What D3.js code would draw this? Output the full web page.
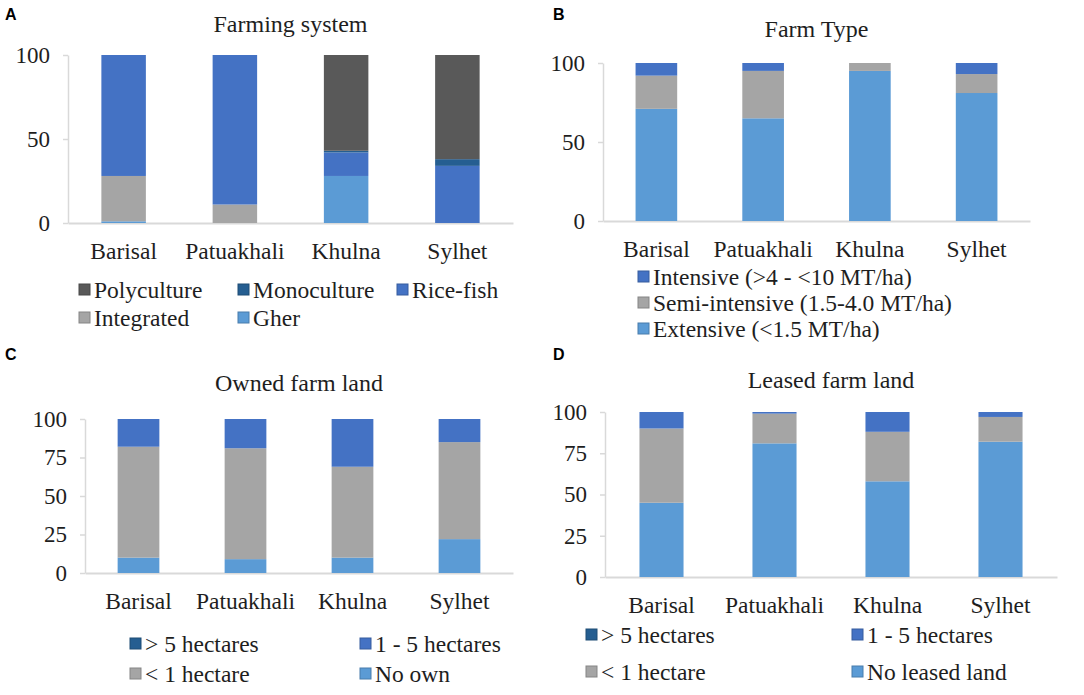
<!DOCTYPE html>
<html>
<head>
<meta charset="utf-8">
<script src="https://cdn.jsdelivr.net/npm/d3@7"></script>
<style>
  body { margin: 0; background: #fff; }
  text { font-family: "Liberation Serif", "Times New Roman", serif; fill: #1e1e1e; }
  .panel-label { font-family: "Liberation Sans", Arial, sans-serif; font-weight: bold; font-size: 16px; fill: #000; }
</style>
</head>
<body>
<svg id="chart"></svg>
<script>
let width = 1084,
    height = 695;

// regions (x categories)
const regions = ['Barisal', 'Patuakhali', 'Khulna', 'Sylhet'];

// A - farming system (% of farms)
const gher = [1, 0, 28, 0];
const integrated = [27, 11, 0, 0];
const riceFish = [72, 89, 14, 34];
const monoculture = [0, 0, 1, 4];
const polyculture = [0, 0, 57, 62];

// B - farm type
const extensive = [71, 65, 95, 81];
const semiIntensive = [21, 30, 5, 12];
const intensive = [8, 5, 0, 7];

// C - owned farm land
const noOwn = [10, 9, 10, 22];
const ownLt1 = [72, 72, 59, 63];
const own1to5 = [18, 19, 31, 15];
const ownGt5 = [0, 0, 0, 0];

// D - leased farm land
const noLeased = [45, 81, 58, 82];
const leaseLt1 = [45, 18, 30, 15];
const lease1to5 = [10, 1, 12, 3];
const leaseGt5 = [0, 0, 0, 0];

const ticksA = [0, 50, 100];
const ticksC = [0, 25, 50, 75, 100];

const lightBlue = '#5b9bd5',
      gray = '#a5a5a5',
      blue = '#4472c4',
      darkBlue = '#255e91',
      darkGray = '#595959';

let svg = d3.select('svg#chart')
    .attr('width', width)
    .attr('height', height);

function drawPanel(p) {
    let g = svg.append('g');

    let x = d3.scaleBand()
        .domain(regions)
        .range([p.x0, p.x1])
        .paddingInner(p.pad)
        .paddingOuter(p.pad / 2);

    let y = d3.scaleLinear()
        .domain([0, 100])
        .range([p.y0, p.y1]);

    // rows of data for the stack
    let rows = regions.map((r, i) => {
        let row = {region: r};
        p.series.forEach(s => row[s.name] = s.values[i]);
        return row;
    });
    let stacked = d3.stack().keys(p.series.map(s => s.name))(rows);

    // axes
    let yAxis = g.append('g')
        .attr('transform', `translate(${p.x0},0)`)
        .call(d3.axisLeft(y).tickValues(p.ticks).tickSize(5).tickSizeOuter(0).tickPadding(13));
    yAxis.selectAll('path, line').attr('stroke', '#d9d9d9').attr('stroke-width', 1.5);
    yAxis.selectAll('text')
        .style('font-family', '"Liberation Serif", serif')
        .style('font-size', '23px')
        .attr('fill', '#1e1e1e');

    let xAxis = g.append('g')
        .attr('transform', `translate(0,${p.y0})`)
        .call(d3.axisBottom(x).tickSize(0).tickSizeOuter(0).tickPadding(p.labelPad));
    xAxis.select('.domain').attr('stroke', '#d9d9d9').attr('stroke-width', 2);
    xAxis.selectAll('text')
        .style('font-family', '"Liberation Serif", serif')
        .style('font-size', '23.5px')
        .attr('fill', '#1e1e1e');

    // bars
    g.append('g')
        .selectAll('g')
        .data(stacked)
        .join('g')
        .attr('fill', d => p.series.find(s => s.name === d.key).color)
        .selectAll('rect')
        .data(d => d)
        .join('rect')
        .attr('x', d => x(d.data.region))
        .attr('width', x.bandwidth())
        .attr('y', d => y(d[1]))
        .attr('height', d => y(d[0]) - y(d[1]));

    // title and panel letter
    g.append('text')
        .attr('x', (p.x0 + p.x1) / 2)
        .attr('y', p.titleY)
        .attr('text-anchor', 'middle')
        .style('font-size', '24px')
        .text(p.title);

    g.append('text')
        .attr('class', 'panel-label')
        .attr('x', p.labelX)
        .attr('y', p.labelY)
        .text(p.letter);

    // legend
    let items = g.append('g')
        .selectAll('g')
        .data(p.legend)
        .join('g')
        .attr('transform', d => `translate(${d.x},${d.y})`);
    items.append('rect')
        .attr('x', 0)
        .attr('y', -14)
        .attr('width', 11)
        .attr('height', 11)
        .attr('fill', d => p.series.find(s => s.name === d.key).color)
        .attr('stroke', d => d3.color(p.series.find(s => s.name === d.key).color).darker(0.6))
        .attr('stroke-width', 1);
    items.append('text')
        .attr('x', 15)
        .attr('y', 0)
        .style('font-size', '23.5px')
        .text(d => d.label || d.key);
}

drawPanel({
    letter: 'A', labelX: 5, labelY: 20,
    title: 'Farming system', titleY: 32,
    x0: 68, x1: 513, y0: 223, y1: 55, pad: 0.6, labelPad: 19,
    ticks: ticksA,
    series: [
        {name: 'Gher', values: gher, color: lightBlue},
        {name: 'Integrated', values: integrated, color: gray},
        {name: 'Rice-fish', values: riceFish, color: blue},
        {name: 'Monoculture', values: monoculture, color: darkBlue},
        {name: 'Polyculture', values: polyculture, color: darkGray}
    ],
    legend: [
        {key: 'Polyculture', x: 79, y: 298},
        {key: 'Monoculture', x: 238, y: 298},
        {key: 'Rice-fish', x: 397, y: 298},
        {key: 'Integrated', x: 79, y: 326},
        {key: 'Gher', x: 238, y: 326}
    ]
});

drawPanel({
    letter: 'B', labelX: 553, labelY: 20,
    title: 'Farm Type', titleY: 37,
    x0: 603, x1: 1030, y0: 221, y1: 63, pad: 0.61, labelPad: 19,
    ticks: ticksA,
    series: [
        {name: 'Extensive', values: extensive, color: lightBlue},
        {name: 'Semi-intensive', values: semiIntensive, color: gray},
        {name: 'Intensive', values: intensive, color: blue}
    ],
    legend: [
        {key: 'Intensive', label: 'Intensive (>4 - <10 MT/ha)', x: 638, y: 285},
        {key: 'Semi-intensive', label: 'Semi-intensive (1.5-4.0 MT/ha)', x: 638, y: 311},
        {key: 'Extensive', label: 'Extensive (<1.5 MT/ha)', x: 638, y: 337}
    ]
});

drawPanel({
    letter: 'C', labelX: 5, labelY: 360,
    title: 'Owned farm land', titleY: 391,
    x0: 85, x1: 513, y0: 573, y1: 419, pad: 0.61, labelPad: 19,
    ticks: ticksC,
    series: [
        {name: 'No own', values: noOwn, color: lightBlue},
        {name: '< 1 hectare', values: ownLt1, color: gray},
        {name: '1 - 5 hectares', values: own1to5, color: blue},
        {name: '> 5 hectares', values: ownGt5, color: darkBlue}
    ],
    legend: [
        {key: '> 5 hectares', x: 130, y: 652},
        {key: '1 - 5 hectares', x: 360, y: 652},
        {key: '< 1 hectare', x: 130, y: 682},
        {key: 'No own', x: 360, y: 682}
    ]
});

drawPanel({
    letter: 'D', labelX: 553, labelY: 360,
    title: 'Leased farm land', titleY: 388,
    x0: 605, x1: 1057, y0: 577, y1: 412, pad: 0.61, labelPad: 19,
    ticks: ticksC,
    series: [
        {name: 'No leased land', values: noLeased, color: lightBlue},
        {name: '< 1 hectare', values: leaseLt1, color: gray},
        {name: '1 - 5 hectares', values: lease1to5, color: blue},
        {name: '> 5 hectares', values: leaseGt5, color: darkBlue}
    ],
    legend: [
        {key: '> 5 hectares', x: 586, y: 643},
        {key: '1 - 5 hectares', x: 852, y: 643},
        {key: '< 1 hectare', x: 586, y: 680},
        {key: 'No leased land', x: 852, y: 680}
    ]
});
</script>
</body>
</html>
